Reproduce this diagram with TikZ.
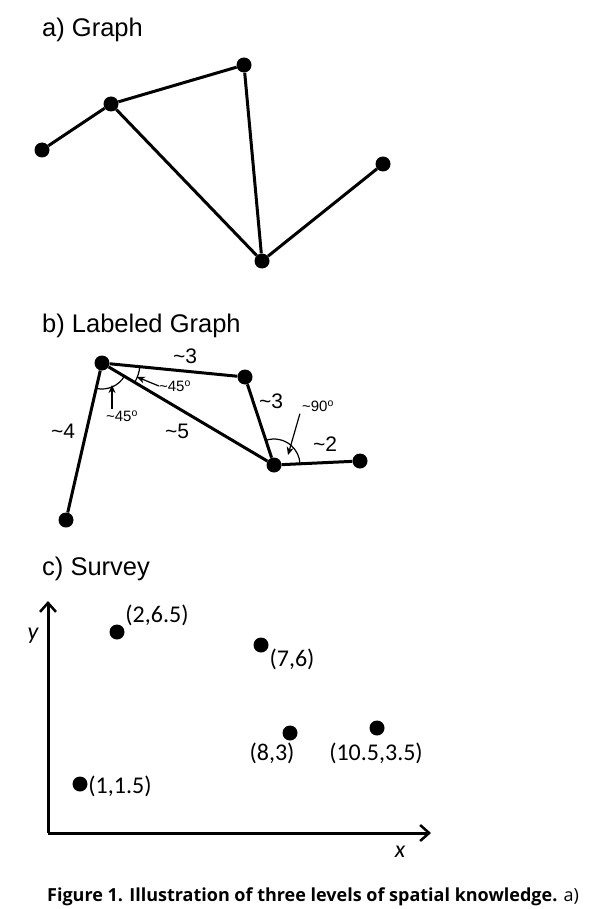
\documentclass[tikz,border=0pt]{standalone}
\usepackage{fontspec}
\setmainfont{Liberation Sans}
\newfontfamily\carl{Carlito}
\newfontfamily\capfont{Open Sans}
\usetikzlibrary{arrows.meta}
\begin{document}
\begin{tikzpicture}[x=1pt,y=-1pt,
  dot/.style={circle,fill=black,inner sep=0pt,minimum size=15pt},
  edge/.style={line width=3pt},
  ttl/.style={font=\fontsize{25.5}{25.5}\selectfont,anchor=west,inner sep=0pt},
  elab/.style={font=\fontsize{21}{21}\selectfont,inner sep=0pt},
  alab/.style={font=\fontsize{15}{15}\selectfont,inner sep=0pt},
  slab/.style={font=\carl\fontsize{24}{24}\selectfont,inner sep=0pt},
  thin arrow/.style={line width=1.2pt,-{Stealth[open,length=8pt,width=7pt]}},
  axis/.style={line width=3pt,-{Straight Barb[length=9pt,width=16pt,line width=2.5pt]}}]
\useasboundingbox (0,0) rectangle (599,909);
% a) Graph
\node[ttl] (ta) at (42,30) {a) Graph};
\node[dot] (a1) at (42,150) {};
\node[dot] (a2) at (111,104) {};
\node[dot] (a3) at (244,65) {};
\node[dot] (a4) at (262,261) {};
\node[dot] (a5) at (383,164) {};
\draw[edge] (a1) -- (a2);
\draw[edge] (a2) -- (a3);
\draw[edge] (a2) -- (a4);
\draw[edge] (a3) -- (a4);
\draw[edge] (a4) -- (a5);
% b) Labeled Graph
\node[ttl] (tb) at (42,326) {b) Labeled Graph};
\node[dot] (bA) at (102,363) {};
\node[dot] (bB) at (245,377) {};
\node[dot] (bC) at (274,465) {};
\node[dot] (bD) at (360,461) {};
\node[dot] (bE) at (66,520) {};
\draw[edge] (bA) -- (bB);
\draw[edge] (bA) -- (bE);
\draw[edge] (bA) -- (bC);
\draw[edge] (bB) -- (bC);
\draw[edge] (bC) -- (bD);
\draw[line width=1.2pt] (bA.center) ++(5.3:38) arc[start angle=5.3,end angle=30.6,radius=38];
\draw[line width=1.2pt] (bA.center) ++(30.6:26) arc[start angle=30.6,end angle=103,radius=26];
\draw[line width=1.2pt] (bC.center) ++(-108:26) arc[start angle=-108,end angle=-2.7,radius=26];
\node[elab] (l3a) at (185,356) {\textasciitilde3};
\node[elab] (l3b) at (271,401) {\textasciitilde3};
\node[elab] (l2) at (325,444) {\textasciitilde2};
\node[elab] (l4) at (63,431) {\textasciitilde4};
\node[elab] (l5) at (177,431) {\textasciitilde5};
\node[alab] (g45a) at (175,386) {\textasciitilde45\textsuperscript{o}};
\node[alab] (g45b) at (122,416) {\textasciitilde45\textsuperscript{o}};
\node[alab] (g90) at (318,406) {\textasciitilde90\textsuperscript{o}};
\coordinate (p45a) at (137,377);
\coordinate (p45b) at (112,385);
\coordinate (p90) at (288,455);
\draw[thin arrow] (g45a.west) -- (p45a);
\draw[thin arrow] (g45b.north -| p45b) ++(0,-1) -- (p45b);
\draw[thin arrow] (g90.south west) ++(-2,2) -- (p90);
% c) Survey
\node[ttl] (tc) at (42,569) {c) Survey};
\coordinate (o) at (48,833);
\coordinate (ytop) at (48,601);
\coordinate (xend) at (431,833);
\draw[axis] (o) -- (ytop);
\draw[axis] (o) -- (xend);
\node[slab,font=\carl\itshape\fontsize{24}{24}\selectfont] (ylab) at (33,636) {y};
\node[slab,font=\carl\itshape\fontsize{24}{24}\selectfont] (xlab) at (400,852) {x};
\node[dot] (c1) at (117,632) {};
\node[dot] (c2) at (261,645) {};
\node[dot] (c3) at (290,733) {};
\node[dot] (c4) at (377,728) {};
\node[dot] (c5) at (80,784) {};
\node[slab] (t1) at (157,615) {(2,6.5)};
\node[slab] (t2) at (292,659) {(7,6)};
\node[slab] (t3) at (272,753) {(8,3)};
\node[slab] (t4) at (376,753) {(10.5,3.5)};
\node[slab] (t5) at (120,786) {(1,1.5)};
% caption
\node[anchor=west,inner sep=0pt,font=\capfont\fontsize{18}{18}\selectfont] (cap) at (47,897)
  {\textbf{Figure 1. Illustration of three levels of spatial knowledge.} a)};
\end{tikzpicture}
\end{document}
